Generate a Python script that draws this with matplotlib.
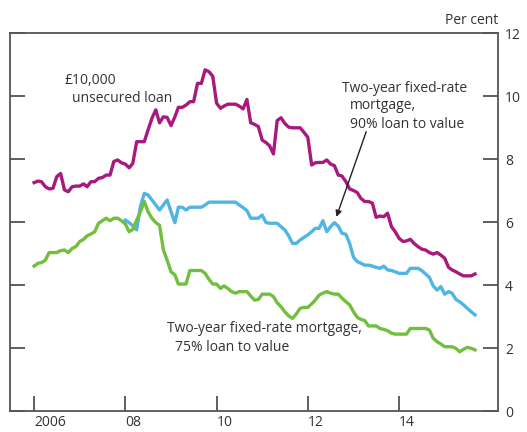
import matplotlib.pyplot as plt
import matplotlib.dates as mdates
import numpy as np
import pandas as pd

#%%
# Monthly quoted rates, Jan 2006 onwards (per cent)
unsecured = [7.25, 7.30, 7.28, 7.12, 7.05, 7.07, 7.44, 7.54, 7.02, 6.96, 7.12, 7.14,
             7.14, 7.21, 7.12, 7.28, 7.28, 7.39, 7.41, 7.49, 7.49, 7.92, 7.97, 7.88,
             7.84, 7.72, 7.86, 8.55, 8.55, 8.55, 8.92, 9.29, 9.56, 9.15, 9.34, 9.32,
             9.06, 9.34, 9.64, 9.64, 9.71, 9.82, 9.82, 10.40, 10.40, 10.83, 10.77, 10.63,
             9.77, 9.61, 9.68, 9.74, 9.74, 9.74, 9.68, 9.59, 9.89, 9.15, 9.10, 9.03,
             8.60, 8.52, 8.42, 8.16, 9.22, 9.31, 9.13, 9.01, 8.99, 8.99, 8.99, 8.85,
             8.69, 7.81, 7.88, 7.89, 7.89, 7.97, 7.84, 7.79, 7.49, 7.46, 7.28, 7.05,
             7.00, 6.93, 6.75, 6.65, 6.65, 6.60, 6.15, 6.19, 6.17, 6.28, 5.85, 5.69,
             5.48, 5.38, 5.40, 5.45, 5.32, 5.22, 5.14, 5.11, 5.03, 4.98, 5.03, 4.95,
             4.85, 4.56, 4.48, 4.42, 4.35, 4.29, 4.29, 4.29, 4.35]

# 90% LTV series starts Jan 2008
ltv90 = [6.06, 5.98, 5.88, 5.75, 6.49, 6.91, 6.86, 6.70, 6.54, 6.38, 6.54, 6.70,
         6.33, 5.98, 6.47, 6.47, 6.38, 6.47, 6.47, 6.47, 6.47, 6.54, 6.63, 6.63,
         6.63, 6.63, 6.63, 6.63, 6.63, 6.63, 6.54, 6.46, 6.36, 6.12, 6.12, 6.12,
         6.22, 5.98, 5.96, 5.96, 5.96, 5.85, 5.75, 5.56, 5.32, 5.32, 5.43, 5.51,
         5.59, 5.69, 5.80, 5.80, 6.04, 5.69, 5.85, 5.98, 5.87, 5.64, 5.61, 5.32,
         4.88, 4.74, 4.69, 4.63, 4.63, 4.60, 4.56, 4.53, 4.60, 4.48, 4.46, 4.42,
         4.37, 4.37, 4.37, 4.53, 4.53, 4.53, 4.46, 4.35, 4.24, 3.97, 3.84, 3.95,
         3.71, 3.79, 3.74, 3.54, 3.47, 3.37, 3.26, 3.15, 3.05]

ltv75 = [4.60, 4.69, 4.71, 4.79, 5.03, 5.03, 5.03, 5.09, 5.11, 5.03, 5.16, 5.22,
         5.38, 5.45, 5.56, 5.62, 5.69, 5.96, 6.04, 6.12, 6.04, 6.12, 6.12, 6.04,
         5.94, 5.69, 5.77, 6.06, 6.33, 6.65, 6.33, 6.12, 5.98, 5.90, 5.11, 4.79,
         4.42, 4.32, 4.03, 4.03, 4.03, 4.46, 4.46, 4.46, 4.46, 4.37, 4.18, 4.03,
         4.03, 3.89, 3.97, 3.89, 3.79, 3.74, 3.79, 3.79, 3.79, 3.65, 3.52, 3.54,
         3.71, 3.71, 3.71, 3.63, 3.44, 3.31, 3.15, 3.02, 2.94, 3.08, 3.26, 3.29,
         3.29, 3.40, 3.52, 3.68, 3.74, 3.79, 3.74, 3.71, 3.71, 3.58, 3.47, 3.37,
         3.15, 2.97, 2.91, 2.87, 2.70, 2.70, 2.70, 2.62, 2.59, 2.55, 2.47, 2.44,
         2.44, 2.44, 2.44, 2.62, 2.62, 2.62, 2.62, 2.62, 2.57, 2.31, 2.20, 2.13,
         2.04, 2.04, 2.04, 1.99, 1.88, 1.96, 2.02, 1.99, 1.94]

dates = pd.date_range('2006-01-01', periods=len(unsecured), freq='MS')
ltv90_dates = dates[24:24 + len(ltv90)]

year_ticks = ['2006', '08', '10', '12', '14']

#%%
plt.rcParams['font.family'] = ['Open Sans', 'DejaVu Sans']
fig = plt.figure(figsize=(5.27, 4.32), dpi=100)
ax = fig.add_axes([0.019, 0.0486, 0.926, 0.875])

ax.plot(dates, unsecured, color='#A8197F', lw=2.4)
ax.plot(ltv90_dates, ltv90, color='#4FB5E5', lw=2.4)
ax.plot(dates, ltv75, color='#72BE3E', lw=2.4)

ax.set_ylim(0, 12)
ax.set_xlim(pd.Timestamp('2005-06-22'), pd.Timestamp('2016-03-03'))
ax.set_yticks([0, 2, 4, 6, 8, 10, 12])
ax.set_xticks([pd.Timestamp(f'{y}-01-01') for y in (2006, 2008, 2010, 2012, 2014)])
ax.set_xticklabels(year_ticks)
for lbl in ax.get_xticklabels():
    lbl.set_ha('left')

ax.tick_params(axis='y', direction='in', length=11, width=1.2, color='#444444',
               left=True, right=True, labelleft=False, labelright=True,
               labelsize=10, labelcolor='#333333', pad=5)
ax.tick_params(axis='x', direction='in', length=11, width=1.2, color='#444444',
               labelsize=10, labelcolor='#333333', pad=3)
for s in ax.spines.values():
    s.set_color('#555555')
    s.set_linewidth(1.3)

ax.text(1.0, 1.012, 'Per cent', transform=ax.transAxes, ha='right', va='bottom',
        fontsize=10, color='#333333')

ax.text(pd.Timestamp('2006-09-01'), 10.48, '£10,000', fontsize=10, color='#333333', va='center')
ax.text(pd.Timestamp('2006-11-01'), 9.92, 'unsecured loan', fontsize=10, color='#333333', va='center')

ax.text(pd.Timestamp('2012-10-01'), 10.25, 'Two-year fixed-rate', fontsize=10, color='#333333', va='center')
ax.text(pd.Timestamp('2012-12-01'), 9.7, 'mortgage,', fontsize=10, color='#333333', va='center')
ax.text(pd.Timestamp('2012-12-01'), 9.1, '90% loan to value', fontsize=10, color='#333333', va='center')
ax.annotate('', xy=(pd.Timestamp('2012-08-10'), 6.08), xytext=(pd.Timestamp('2013-04-20'), 8.95),
            arrowprops=dict(arrowstyle='-|>', color='#222222', lw=1.0, mutation_scale=9))

ax.text(pd.Timestamp('2008-12-01'), 2.63, 'Two-year fixed-rate mortgage,', fontsize=10, color='#333333', va='center')
ax.text(pd.Timestamp('2009-02-01'), 2.03, '75% loan to value', fontsize=10, color='#333333', va='center')

plt.savefig('out.png', dpi=100)
